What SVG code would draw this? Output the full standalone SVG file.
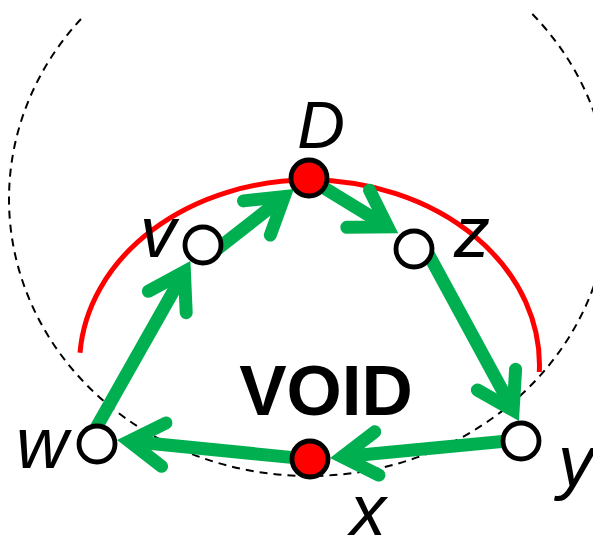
<svg xmlns="http://www.w3.org/2000/svg" width="593" height="537" viewBox="0 0 593 537">
<style>
.bg{fill:#ffffff}
.boundary{fill:none;stroke:#000;stroke-width:2;stroke-dasharray:8 6}
.arc{fill:none;stroke:#ff0000;stroke-width:5}
.shaft{fill:none;stroke:#00b050;stroke-width:13;stroke-linecap:butt}
.head{fill:none;stroke:#00b050;stroke-width:13;stroke-linecap:round;stroke-linejoin:miter;stroke-miterlimit:10}
.node{stroke:#000;stroke-width:4.8}
.open{fill:#ffffff}
.hit{fill:#ff0000}
.lbl{font-family:"Liberation Sans",Arial,sans-serif;font-style:italic;font-size:72px;fill:#000;text-anchor:middle}
.void{font-family:"Liberation Sans",Arial,sans-serif;font-weight:bold;font-size:71px;fill:#000;text-anchor:middle}
</style>
<rect class="bg" x="0" y="0" width="593" height="537"/>
<path class="boundary" d="M 81 19 A 300 277 0 1 0 531.3 13"/>
<path class="arc" d="M 80 352.8 A 230 185 0 0 1 309.5 180 A 230 185 0 0 1 539.3 372"/>
<g id="connectors">
  <g id="e-v-D">
    <line class="shaft" x1="211.3" y1="253.7" x2="284.3" y2="196.6"/>
    <polyline class="head" points="243.5,200.9 284.3,196.6 270.3,235.1"/>
  </g>
  <g id="e-D-z">
    <line class="shaft" x1="313" y1="181.1" x2="387.8" y2="226.9"/>
    <polyline class="head" points="369.5,190.2 387.8,226.9 346.8,227.3"/>
  </g>
  <g id="e-z-y">
    <line class="shaft" x1="424.5" y1="247" x2="513.1" y2="410.2"/>
    <polyline class="head" points="515.6,369.3 513.1,410.2 477.4,390"/>
  </g>
  <g id="e-y-x">
    <line class="shaft" x1="514.1" y1="440.3" x2="342.2" y2="456.8"/>
    <polyline class="head" points="378.9,475.1 342.2,456.8 374.7,431.8"/>
  </g>
  <g id="e-x-w">
    <line class="shaft" x1="306.1" y1="458.9" x2="129.2" y2="441.2"/>
    <polyline class="head" points="161.6,466.3 129.2,441.2 166,423"/>
  </g>
  <g id="e-w-v">
    <line class="shaft" x1="94.5" y1="430.7" x2="184.4" y2="271.7"/>
    <polyline class="head" points="148.4,291.3 184.4,271.7 186.2,312.7"/>
  </g>
</g>
<g id="node-D"><circle class="node hit" cx="309" cy="178" r="18"/><text class="lbl" x="321" y="148" style="font-size:66px">D</text></g>
<g id="node-v"><circle class="node open" cx="203" cy="245" r="18"/><text class="lbl" x="158" y="257">v</text></g>
<g id="node-z"><circle class="node open" cx="414" cy="249" r="18"/><text class="lbl" x="472" y="257">z</text></g>
<g id="node-w"><circle class="node open" cx="97" cy="444" r="18"/><text class="lbl" x="42" y="468">w</text></g>
<g id="node-y"><circle class="node open" cx="521" cy="441" r="18"/><text class="lbl" x="576" y="486">y</text></g>
<g id="node-x"><circle class="node hit" cx="310" cy="459" r="18"/><text class="lbl" x="368" y="535">x</text></g>
<text class="void" x="326" y="415">VOID</text>
</svg>
